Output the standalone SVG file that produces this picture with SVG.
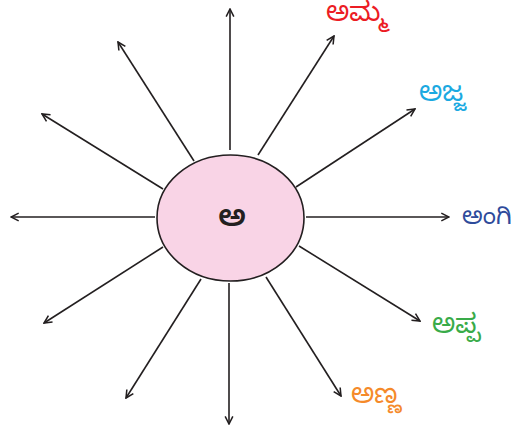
<svg xmlns="http://www.w3.org/2000/svg" width="514" height="432" viewBox="0 0 514 432">
<style>
.c line{stroke:#231f20;stroke-width:1.6;fill:none;marker-end:url(#ah)}
text{font-family:"Noto Sans Kannada","Noto Sans",sans-serif;font-size:27px}
</style>
<defs>
<marker id="ah" viewBox="0 0 10 10" refX="9" refY="5" markerWidth="6" markerHeight="6" orient="auto" markerUnits="strokeWidth">
<path d="M1,1 L9,5 L1,9" fill="none" stroke="#231f20" stroke-width="1.6"/>
</marker>
</defs>
<rect width="514" height="432" fill="#fff"/>
<g id="connectors" class="c">
<line x1="230" y1="150" x2="230" y2="9"/>
<line x1="229" y1="283" x2="229" y2="424"/>
<line x1="155" y1="217" x2="11" y2="217"/>
<line x1="306" y1="217" x2="449" y2="217"/>
<line x1="258" y1="155" x2="334" y2="36"/>
<line x1="296" y1="187" x2="415" y2="109"/>
<line x1="299" y1="246" x2="420" y2="321"/>
<line x1="266" y1="277" x2="341" y2="396"/>
<line x1="194" y1="161" x2="118" y2="42"/>
<line x1="163" y1="189" x2="42" y2="114"/>
<line x1="163" y1="247" x2="44" y2="323"/>
<line x1="201" y1="279" x2="126" y2="398"/>
</g>
<g id="center">
<ellipse cx="230.5" cy="218" rx="73.5" ry="63" fill="#f9d4e6" stroke="#231f20" stroke-width="1.6"/>
<text x="232" y="226" text-anchor="middle" fill="#231f20" style="font-size:30px;font-weight:600">ಅ</text>
</g>
<g id="amma"><text x="326" y="21" fill="#ec1c24">ಅಮ್ಮ</text></g>
<g id="ajja"><text x="419" y="101" fill="#1ba9e1">ಅಜ್ಜ</text></g>
<g id="angi"><text x="462" y="224" fill="#2e4b9b" style="font-size:24px">ಅಂಗಿ</text></g>
<g id="appa"><text x="432" y="333" fill="#39ab49">ಅಪ್ಪ</text></g>
<g id="anna"><text x="351" y="403" fill="#f58a2a">ಅಣ್ಣ</text></g>
</svg>
